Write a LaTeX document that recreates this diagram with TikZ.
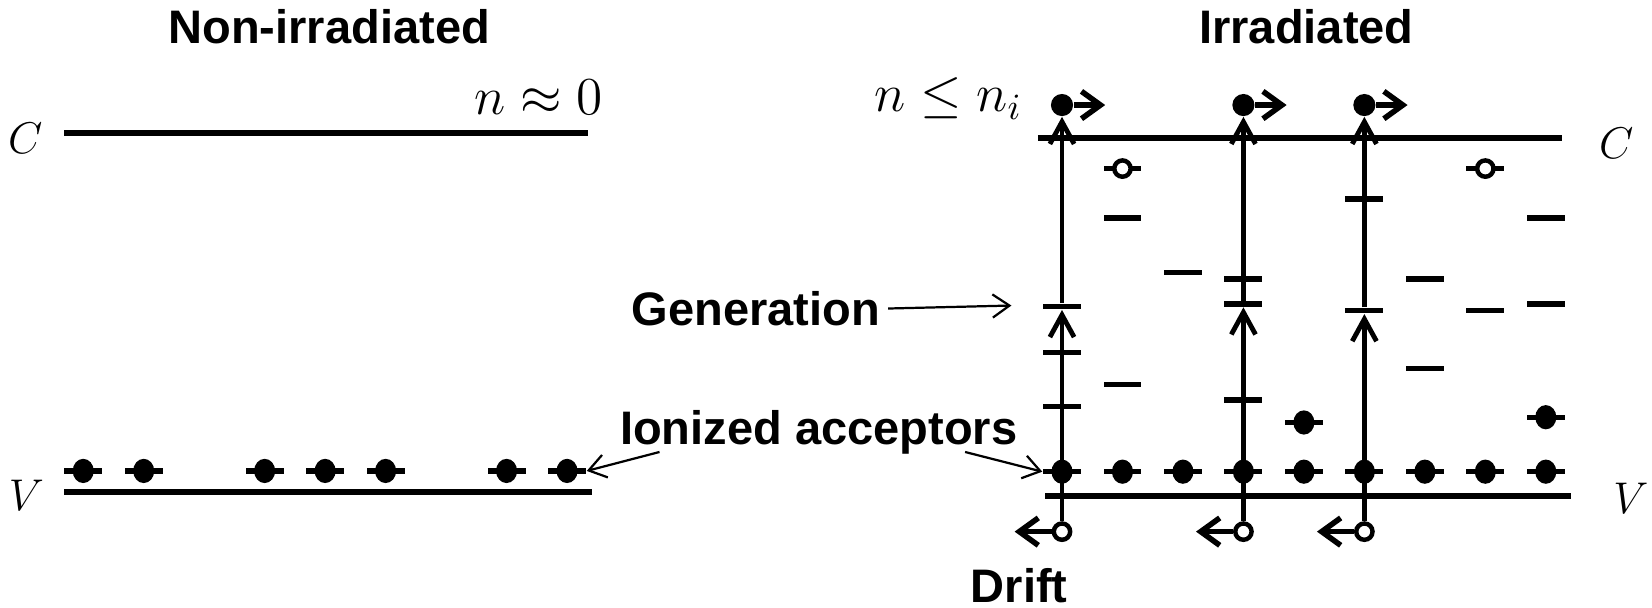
\documentclass[tikz,border=0pt]{standalone}
\usepackage[no-math]{fontspec}
\setmainfont{Liberation Sans}
\usetikzlibrary{arrows.meta,shapes.geometric}

\begin{document}
\begin{tikzpicture}[
    x=0.1mm, y=-0.1mm,
    band/.style={line width=1.6pt},
    lvl/.style={rectangle, fill=black, inner sep=0pt, minimum width=3.6mm, minimum height=0.5mm},
    edot/.style={ellipse, fill=black, inner sep=0pt, minimum width=2.0mm, minimum height=2.3mm},
    elec/.style={circle, fill=black, inner sep=0pt, minimum size=2.1mm},
    hole/.style={circle, draw=black, fill=white, line width=1.2pt, inner sep=0pt, minimum size=1.55mm},
    trans/.style={line width=1.3pt, -{Straight Barb[length=2.1mm,width=2.3mm]}},
    drift/.style={line width=1.5pt, -{Straight Barb[length=1.8mm,width=2.6mm]}},
    pointer/.style={line width=0.6pt, -{Straight Barb[length=1.6mm,width=2.2mm]}},
    lab/.style={font=\fontsize{12.7}{14}\selectfont\bfseries, inner sep=0pt},
    sym/.style={font=\fontsize{14}{16}\selectfont, inner sep=0pt},
    bsym/.style={font=\fontsize{13}{15}\selectfont, inner sep=0pt}
]
\useasboundingbox (0,0) rectangle (1568,577);

% non-irradiated
\node[lab, anchor=base] (tnon) at (312.5,41) {Non-irradiated};
\node[bsym] (cl) at (24,131) {$C$};
\node[bsym] (vl) at (25,470) {$V$};
\node[sym, anchor=base east] (nzero) at (572.5,109) {$n \approx 0$};
\draw[band] (61,126.6) -- (558,126.6);
\draw[band] (61,467.3) -- (562,467.3);
\foreach \k [count=\i] in {0,1,3,4,5,7,8} {
    \node[lvl] (la\i) at ({79+57.4*\k},447) {};
    \node[edot] (ld\i) at (la\i) {};
}

% irradiated
\node[lab, anchor=base] (tirr) at (1240,41) {Irradiated};
\node[sym, anchor=base west] (nless) at (829,106) {$n \le n_i$};
\node[bsym] (cr) at (1534,136) {$C$};
\node[bsym] (vr) at (1548,473) {$V$};
\draw[band] (985,131.3) -- (1483,131.3);
\draw[band] (992,470.8) -- (1491,470.8);
\foreach \k in {0,...,8} {
    \node[lvl] (ra\k) at ({1008+57.4*\k},447.7) {};
    \node[edot] (rd\k) at (ra\k) {};
}
% deep levels
\foreach \k/\y [count=\i] in {1/207, 1/364.8, 2/258.5, 6/264.8, 6/349.6, 7/294.9, 8/207,
        8/288.5, 0/334.5, 0/385.5, 3/264.8, 3/379.7, 5/189}
    \node[lvl] (lv\i) at ({1008+57.4*\k},\y) {};
\foreach \k [count=\i] in {1,7} {
    \node[lvl] (hl\i) at ({1008+57.4*\k},160) {};
    \node[hole] (hn\i) at (hl\i) {};
}
\foreach \k/\y [count=\i] in {4/401, 8/396} {
    \node[lvl] (fl\i) at ({1008+57.4*\k},\y) {};
    \node[edot] (fd\i) at (fl\i) {};
}

% generation paths
\foreach \x/\y [count=\i] in {1008/291, 1180.2/288.5, 1295/294.9} {
    \node[lvl] (g\i) at (\x,\y) {};
    \node[elec] (e\i) at (\x,99.7) {};
    \node[hole] (h\i) at (\x,504.6) {};
    \coordinate (ef\i) at ({\x+41},99.7);
    \coordinate (hf\i) at ({\x-45},504.6);
    \draw[trans] (h\i) -- (g\i);
    \draw[trans] (g\i) -- (e\i);
    \draw[drift] (e\i) -- (ef\i);
    \draw[drift] (h\i) -- (hf\i);
}

\node[lab, anchor=east] (gen) at (836,293) {Generation};
\coordinate (gentip) at (960,290);
\draw[pointer, shorten <=0.7mm] (gen.east) -- (gentip);

\node[lab, anchor=base] (ion) at (777,422) {Ionized acceptors};
\coordinate (ionl) at (626,429);
\coordinate (ionr) at (916,429);
\draw[pointer] (ionl) -- (la7.east);
\draw[pointer] (ionr) -- (ra0.west);

\node[lab, anchor=base east] (drift) at (1014,572) {Drift};
\end{tikzpicture}
\end{document}
